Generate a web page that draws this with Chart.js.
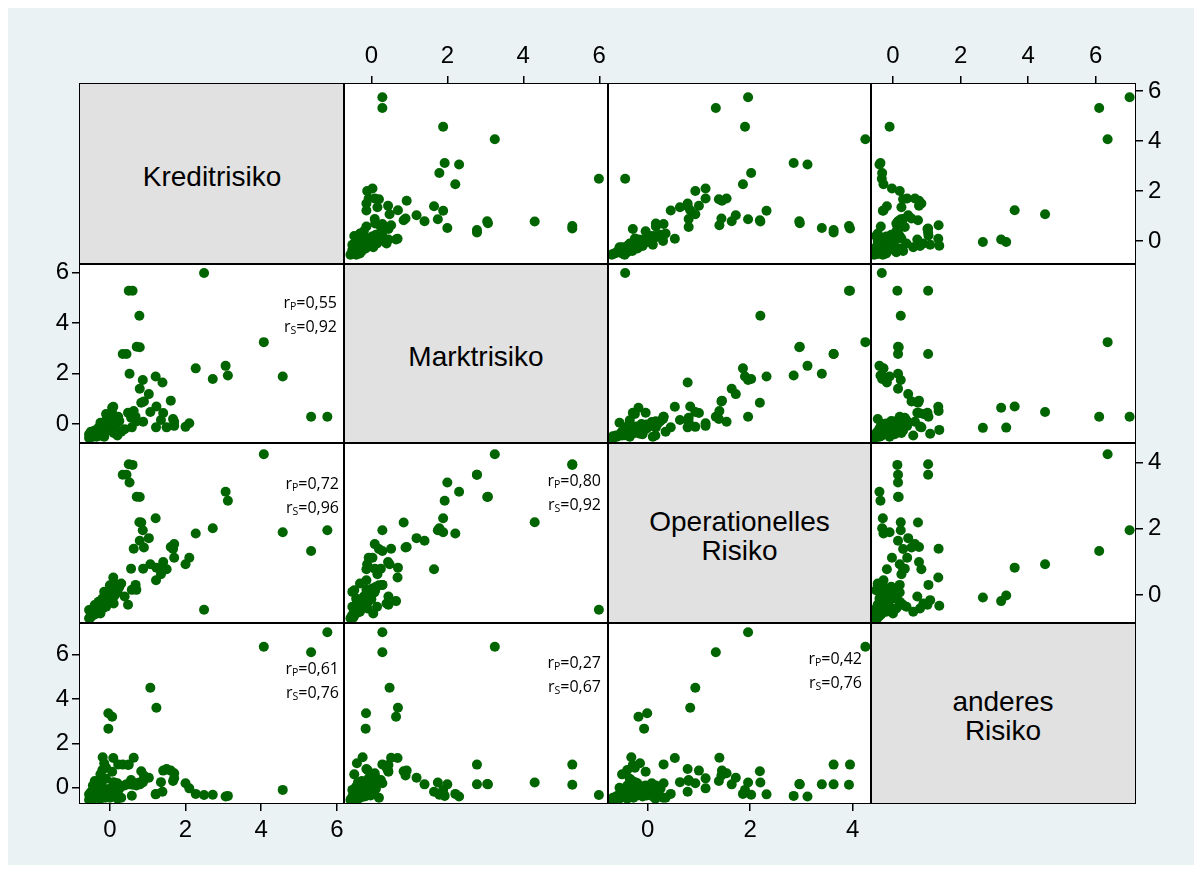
<!DOCTYPE html>
<html>
<head>
<meta charset="utf-8">
<script src="https://cdn.jsdelivr.net/npm/chart.js@4/dist/chart.umd.min.js"></script>
<style>
  body { margin: 0; background: #ffffff; width: 1204px; height: 872px; overflow: hidden; position: relative; }
  #bg { position: absolute; left: 8px; top: 8px; width: 1186px; height: 857px; background: #eaf2f3; }
  .cell { position: absolute; background: #ffffff; z-index: 1; box-sizing: border-box; }
  .diag { background: #e1e1e1; display: flex; align-items: center; justify-content: center; text-align: center; padding-top: 5px;
          font-family: "Liberation Sans", Arial, sans-serif; font-size: 28px; line-height: 29px; color: #000; white-space: pre-line; }
  .frame { position: absolute; border: 1px solid #000; box-sizing: border-box; z-index: 3; }
  .corr { position: absolute; z-index: 4; text-align: right; font-family: "Open Sans", sans-serif; font-size: 16px; line-height: 22px; color: #000; }
  .corr sub { font-size: 10.5px; vertical-align: baseline; position: relative; top: 2px; }
  canvas { position: absolute; z-index: 2; }
</style>
</head>
<body>
<div id="bg"></div>
<script>
// one entry per observation, same order in every array
const kredit = [4.07, 5.75, 5.32, 4.57, 2.49, 0.50, 0.60, 0.78, 0.71, 0.79,
  0.34, 0.44, 0.52, 3.06, 3.12, 2.27, 2.72, 0.87, 1.21, 1.39,
  0.79, 1.03, 0.83, 1.61, 1.23, 1.07, -0.04, 0.06, -0.04, 2.10,
  2.00, 1.70, 1.70, 1.67, 1.50, 1.22, 1.35, 0.88, 0.68, 0.58,
  0.63, 0.22, 0.09, 0.06, 0.48, 1.41, 0.56, 0.70, 0.39, 0.90,
  -0.55, -0.50, -0.52, -0.45, -0.48, -0.42, -0.40, -0.38, -0.35, -0.33,
  -0.30, -0.28, -0.25, -0.22, -0.20, -0.18, -0.15, -0.12, -0.10, -0.08,
  -0.05, -0.02, 0.00, 0.03, 0.05, 0.08, 0.10, 0.12, 0.15, 0.18,
  0.20, 0.25, -0.45, -0.40, -0.30, -0.20, -0.50, -0.35, 0.30, 0.20,
  -0.10, 0.00, -0.25, -0.55, 0.10, -0.15, -0.19, -0.15, -0.20, -0.10, -0.25];

const markt = [3.25, 0.29, 0.29, 1.89, 5.99, 5.29, 5.29, 4.30, 3.07, 3.05,
  2.78, 2.78, 2.00, 2.31, 1.93, 2.21, 1.79, 1.75, 1.89, 1.65,
  1.40, 1.19, 0.85, 0.93, 0.70, 0.48, -0.14, 0.65, -0.15, 0.03,
  -0.11, 0.09, -0.07, 0.20, -0.13, -0.13, 0.16, 0.09, 0.29, -0.13,
  0.52, 0.29, 0.69, 0.45, 0.45, 0.44, 0.25, 0.10, -0.20, 0.90,
  -0.55, -0.52, -0.48, -0.50, -0.45, -0.42, -0.47, -0.40, -0.38, -0.35,
  -0.44, -0.30, -0.36, -0.28, -0.33, -0.25, -0.20, -0.30, -0.15, -0.22,
  -0.10, -0.18, -0.05, -0.12, 0.00, -0.08, 0.05, -0.02, 0.10, 0.02,
  0.08, 0.12, -0.35, -0.25, -0.15, -0.40, -0.30, -0.50, -0.30, -0.45,
  0.15, 0.20, 0.05, -0.40, -0.35, -0.50, -0.23, -0.38, -0.10, 0.40, -0.45];

const oper = [4.25, 1.96, 1.33, 1.90, -0.44, 3.95, 3.93, 2.20, 2.97, 2.96,
  3.63, 3.63, 3.40, 3.12, 2.85, 1.86, 2.02, 1.96, 2.32, 0.78,
  1.64, 1.72, 2.19, 1.45, 0.83, 0.93, -0.01, -0.18, -0.07, 1.13,
  0.93, 1.54, 1.13, 1.39, 0.78, 0.45, 0.63, 0.80, 0.31, 0.16,
  1.40, 0.31, 0.53, -0.04, -0.29, 1.00, 0.80, 0.16, -0.04, 1.44,
  -0.70, -0.65, -0.68, -0.60, -0.62, -0.55, -0.58, -0.50, -0.48, -0.52,
  -0.45, -0.42, -0.40, -0.35, -0.30, -0.38, -0.25, -0.28, -0.20, -0.15,
  -0.22, -0.10, -0.05, 0.00, -0.12, 0.05, 0.10, -0.02, 0.15, 0.20,
  0.08, 0.25, -0.40, -0.30, -0.20, -0.10, -0.50, -0.35, 0.35, 0.15,
  -0.35, 0.30, -0.55, -0.45, -0.25, 0.10, -0.32, -0.15, -0.40, -0.25, -0.50];

const anderes = [6.35, 7.00, 6.10, -0.10, -0.33, 1.04, 0.13, 0.23, 0.15, 0.17,
  1.04, 0.15, 0.15, -0.40, -0.37, -0.28, -0.32, 0.23, -0.30, -0.18,
  0.15, 0.45, 0.74, 0.77, 3.60, 4.50, 3.35, 3.20, 2.66, -0.03,
  0.20, 0.65, 0.42, 0.30, 0.84, -0.28, 0.25, 0.30, 0.20, -0.36,
  1.35, 1.05, 1.34, 0.72, 1.02, 0.77, 0.35, 0.10, 0.10, 0.55,
  -0.55, -0.50, -0.45, -0.52, -0.40, -0.48, -0.35, -0.42, -0.30, -0.45,
  -0.38, -0.25, -0.50, -0.20, -0.40, -0.30, -0.15, -0.45, -0.35, -0.10,
  -0.25, -0.40, -0.20, 0.00, -0.30, -0.15, 0.10, -0.35, 0.05, -0.20,
  0.20, -0.05, 0.10, 0.30, 0.20, 0.05, -0.20, -0.10, -0.45, -0.50,
  0.40, -0.45, 0.00, -0.30, 0.25, -0.40, 1.37, 1.10, 0.80, 0.90, 0.60];

const varLabels = ['Kreditrisiko', 'Marktrisiko', 'Operationelles\nRisiko', 'anderes\nRisiko'];
const varTicks = [[0, 2, 4, 6], [0, 2, 4, 6], [0, 2, 4], [0, 2, 4, 6]];

// axis ranges (a variable used as x, and as y)
const xMin = [-0.79, -0.72, -0.775, -0.65];
const xMax = [6.19, 6.23, 4.36, 7.16];
const yMin = [-0.92, -0.75, -0.84, -0.69];
const yMax = [6.28, 6.35, 4.59, 7.42];

// correlations printed in the lower triangle
const corrRow = [1, 2, 2, 3, 3, 3];
const corrCol = [0, 0, 1, 0, 1, 2];
const rPearson = ['0,55', '0,72', '0,80', '0,61', '0,27', '0,42'];
const rSpearman = ['0,92', '0,96', '0,92', '0,76', '0,67', '0,76'];
const corrTop = [27, 29, 26, 34, 28, 24];
const corrRight = [7, 5, 7, 5, 7, 9];

const colEdges = [80, 344, 608, 871, 1135];
const rowEdges = [84, 264, 443, 623, 803];
const M = 45;
const dotColor = 'rgb(0,100,0)';
const allVars = [kredit, markt, oper, anderes];

function axisOptions(pos, min, max, ticks, show) {
    return {
        type: 'linear',
        position: pos,
        min: min,
        max: max,
        afterBuildTicks: axis => { axis.ticks = ticks.map(v => ({ value: v })) },
        afterFit: axis => {
            if (pos === 'top' || pos === 'bottom') axis.height = M;
            else axis.width = M;
        },
        grid: { display: show, drawOnChartArea: false, drawTicks: true, tickLength: 8, color: '#000', lineWidth: 1.5 },
        border: { display: false },
        ticks: {
            display: show, color: '#000', autoSkip: false, maxRotation: 0,
            padding: (pos === 'left') ? 3 : 5,
            font: { family: 'Liberation Sans', size: 24 },
            callback: v => String(v)
        }
    }
}

function makePanel(r, c) {
    const left = colEdges[c], top = rowEdges[r];
    const w = colEdges[c + 1] - left, h = rowEdges[r + 1] - top;

    const canvas = document.createElement('canvas');
    canvas.width = w + 2 * M;
    canvas.height = h + 2 * M;
    canvas.style.left = (left - M) + 'px';
    canvas.style.top = (top - M) + 'px';
    canvas.style.width = (w + 2 * M) + 'px';
    canvas.style.height = (h + 2 * M) + 'px';
    document.body.appendChild(canvas);

    const xPos = c % 2 === 0 ? 'bottom' : 'top';
    const yPos = r % 2 === 0 ? 'right' : 'left';
    const showX = (xPos === 'bottom' && r === 3) || (xPos === 'top' && r === 0);
    const showY = (yPos === 'left' && c === 0) || (yPos === 'right' && c === 3);

    new Chart(canvas.getContext('2d'), {
        type: 'scatter',
        data: {
            datasets: [{
                data: allVars[c].map((v, i) => ({ x: v, y: allVars[r][i] })),
                backgroundColor: dotColor,
                borderColor: dotColor,
                borderWidth: 0,
                pointRadius: 5
            }]
        },
        options: {
            responsive: false,
            animation: false,
            events: [],
            devicePixelRatio: 1,
            layout: {
                padding: {
                    top: xPos === 'bottom' ? M : 0,
                    bottom: xPos === 'top' ? M : 0,
                    left: yPos === 'right' ? M : 0,
                    right: yPos === 'left' ? M : 0
                }
            },
            plugins: { legend: { display: false }, tooltip: { enabled: false } },
            scales: {
                x: axisOptions(xPos, xMin[c], xMax[c], varTicks[c], showX),
                y: axisOptions(yPos, yMin[r], yMax[r], varTicks[r], showY)
            }
        }
    });
}

function main() {
    for (let r = 0; r < 4; r++) {
        for (let c = 0; c < 4; c++) {
            const left = colEdges[c], top = rowEdges[r];
            const w = colEdges[c + 1] - left, h = rowEdges[r + 1] - top;

            const cell = document.createElement('div');
            cell.className = r === c ? 'cell diag' : 'cell';
            cell.style.cssText += `left:${left}px;top:${top}px;width:${w}px;height:${h}px;`;
            if (r === c) cell.textContent = varLabels[r];
            document.body.appendChild(cell);

            const frame = document.createElement('div');
            frame.className = 'frame';
            frame.style.cssText += `left:${left - 1}px;top:${top - 1}px;width:${w + 2}px;height:${h + 2}px;`;
            document.body.appendChild(frame);

            if (r !== c) makePanel(r, c);
        }
    }

    corrRow.forEach((r, i) => {
        const c = corrCol[i];
        const d = document.createElement('div');
        d.className = 'corr';
        d.style.right = (1204 - colEdges[c + 1] + corrRight[i]) + 'px';
        d.style.top = (rowEdges[r] + corrTop[i]) + 'px';
        d.innerHTML = `r<sub>P</sub>=${rPearson[i]}<br>r<sub>S</sub>=${rSpearman[i]}`;
        document.body.appendChild(d);
    });
}

main()
</script>
</body>
</html>
